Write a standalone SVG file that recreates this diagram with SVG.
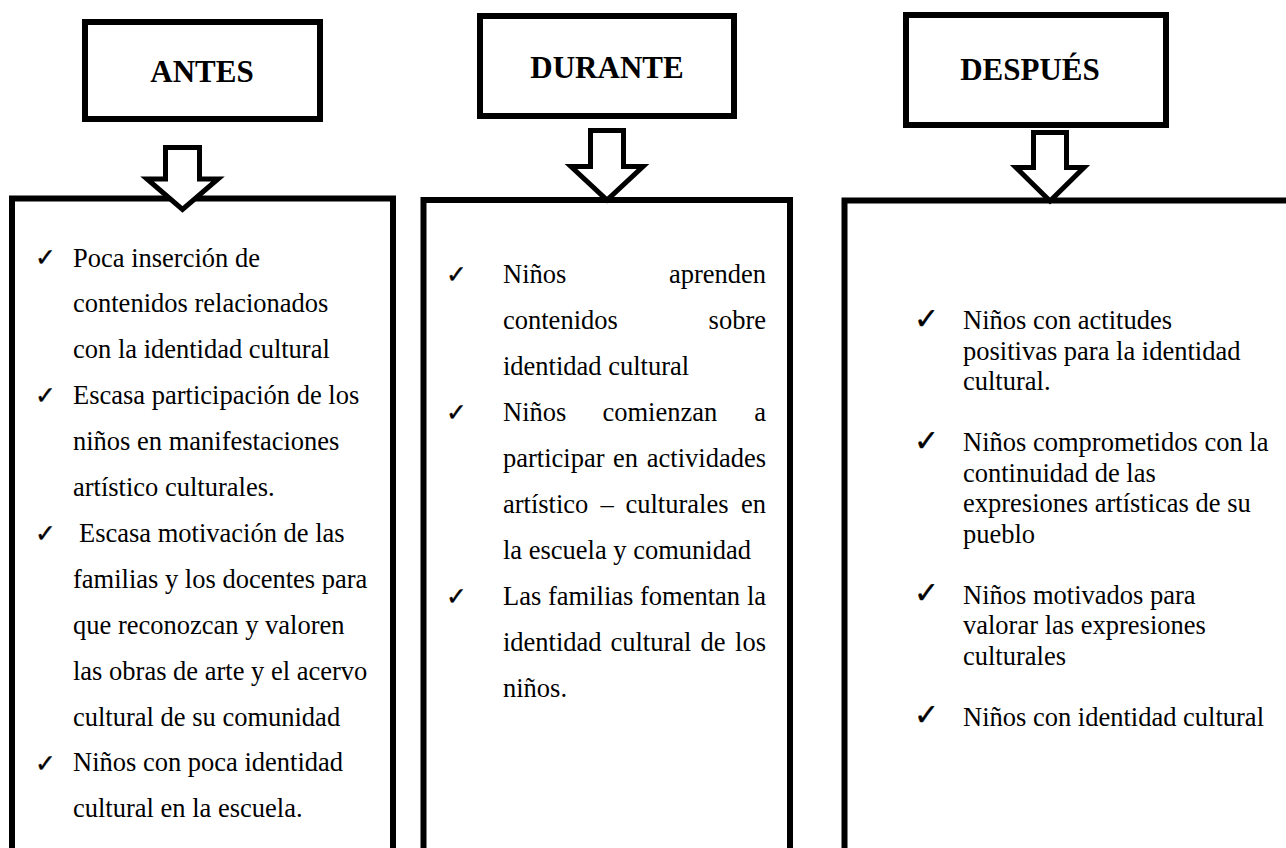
<svg xmlns="http://www.w3.org/2000/svg" width="1286" height="848" viewBox="0 0 1286 848">
<style>
.box{fill:#fff;stroke:#000;stroke-width:6}
.arrow{fill:#fff;stroke:#000;stroke-width:5;stroke-linejoin:miter}
.h{font-family:"Liberation Serif","Times New Roman",serif;font-weight:bold;font-size:31px;fill:#000;text-anchor:middle}
.t{font-family:"Liberation Serif","Times New Roman",serif;font-size:26.5px;fill:#000}
.e{text-anchor:end}
.ck{font-family:"DejaVu Sans",sans-serif;font-size:25px;fill:#000;stroke:#000;stroke-width:0.4}
.ck3{font-family:"DejaVu Sans",sans-serif;font-size:30px;fill:#000;stroke:#000;stroke-width:0.4}
</style>
<rect width="1286" height="848" fill="#fff"/>

<g id="antes-header">
<rect class="box" x="85" y="22" width="235" height="97"/>
<text class="h" x="202" y="82">ANTES</text>
</g>
<g id="durante-header">
<rect class="box" x="480" y="16" width="254" height="100"/>
<text class="h" x="607" y="78">DURANTE</text>
</g>
<g id="despues-header">
<rect class="box" x="906" y="15" width="260" height="110"/>
<text class="h" x="1030" y="80">DESPUÉS</text>
</g>

<g id="antes-list">
<rect class="box" x="12" y="198.5" width="381" height="700"/>
<text class="ck" x="35" y="266">✓</text>
<text class="t" x="73" y="266.5">Poca inserción de</text>
<text class="t" x="73" y="312.4">contenidos relacionados</text>
<text class="t" x="73" y="358.3">con la identidad cultural</text>
<text class="ck" x="35" y="404">✓</text>
<text class="t" x="73" y="404.2">Escasa participación de los</text>
<text class="t" x="73" y="450.1">niños en manifestaciones</text>
<text class="t" x="73" y="496">artístico culturales.</text>
<text class="ck" x="35" y="542">✓</text>
<text class="t" x="79" y="541.9">Escasa motivación de las</text>
<text class="t" x="73" y="587.8">familias y los docentes para</text>
<text class="t" x="73" y="633.7">que reconozcan y valoren</text>
<text class="t" x="73" y="679.6">las obras de arte y el acervo</text>
<text class="t" x="73" y="725.5">cultural de su comunidad</text>
<text class="ck" x="35" y="772">✓</text>
<text class="t" x="73" y="771.4">Niños con poca identidad</text>
<text class="t" x="73" y="817.3">cultural en la escuela.</text>
</g>

<g id="durante-list">
<rect class="box" x="423.5" y="200" width="366.5" height="700"/>
<text class="ck" x="446" y="283">✓</text>
<text class="t" x="503" y="283">Niños</text>
<text class="t e" x="766" y="283">aprenden</text>
<text class="t" x="503" y="329">contenidos</text>
<text class="t e" x="766" y="329">sobre</text>
<text class="t" x="503" y="375">identidad cultural</text>
<text class="ck" x="446" y="421">✓</text>
<text class="t" x="503" y="421">Niños</text>
<text class="t" x="602.5" y="421">comienzan</text>
<text class="t e" x="766" y="421">a</text>
<text class="t" x="503" y="467">participar</text>
<text class="t" x="613" y="467">en</text>
<text class="t e" x="766" y="467">actividades</text>
<text class="t" x="503" y="513">artístico</text>
<text class="t" x="600.5" y="513">–</text>
<text class="t" x="625.5" y="513">culturales</text>
<text class="t e" x="766" y="513">en</text>
<text class="t" x="503" y="559">la escuela y comunidad</text>
<text class="ck" x="446" y="605">✓</text>
<text class="t" x="503" y="605">Las</text>
<text class="t" x="548" y="605">familias</text>
<text class="t" x="640" y="605">fomentan</text>
<text class="t e" x="766" y="605">la</text>
<text class="t" x="503" y="651">identidad</text>
<text class="t" x="610.5" y="651">cultural</text>
<text class="t" x="700.5" y="651">de</text>
<text class="t e" x="766" y="651">los</text>
<text class="t" x="503" y="697">niños.</text>
</g>

<g id="despues-list">
<rect class="box" x="844.5" y="200.5" width="500" height="700"/>
<text class="ck3" x="914" y="329">✓</text>
<text class="t" x="963" y="329">Niños con actitudes</text>
<text class="t" x="963" y="359.5">positivas para la identidad</text>
<text class="t" x="963" y="390">cultural.</text>
<text class="ck3" x="914" y="451">✓</text>
<text class="t" x="963" y="451">Niños comprometidos con la</text>
<text class="t" x="963" y="481.5">continuidad de las</text>
<text class="t" x="963" y="512">expresiones artísticas de su</text>
<text class="t" x="963" y="542.5">pueblo</text>
<text class="ck3" x="914" y="603">✓</text>
<text class="t" x="963" y="603.5">Niños motivados para</text>
<text class="t" x="963" y="634">valorar las expresiones</text>
<text class="t" x="963" y="664.5">culturales</text>
<text class="ck3" x="914" y="725">✓</text>
<text class="t" x="963" y="725.5">Niños con identidad cultural</text>
</g>

<g id="connectors">
<path class="arrow" d="M165.5,147.5 H199.5 V179 H218 L182.5,209.5 L147,179 H165.5 Z"/>
<path class="arrow" d="M590.5,130.5 H623.5 V166.5 H643 L607,200 L571,166.5 H590.5 Z"/>
<path class="arrow" d="M1033.5,132.5 H1066.5 V167.5 H1084 L1050,201 L1016,167.5 H1033.5 Z"/>
</g>
</svg>
